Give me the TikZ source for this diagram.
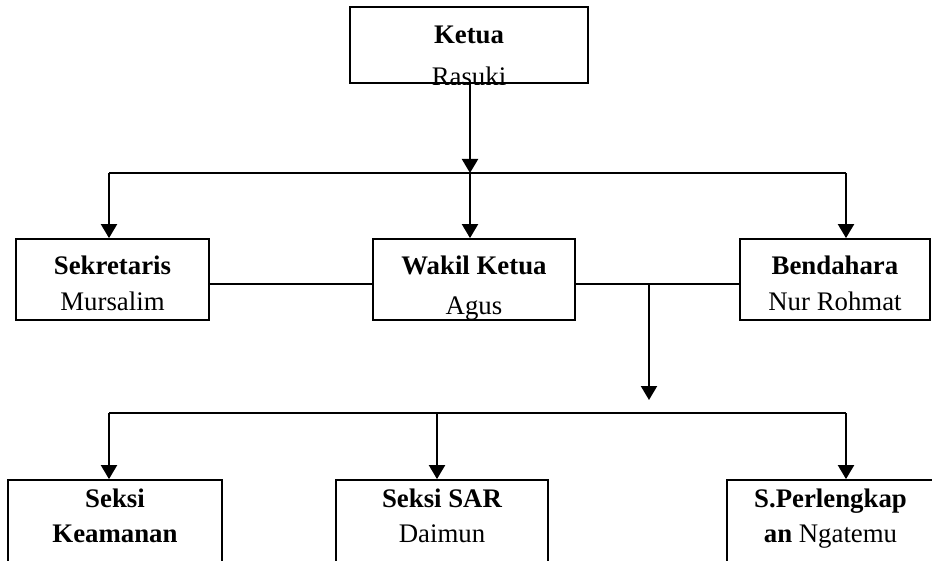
\documentclass[tikz,border=0pt]{standalone}
\usepackage{fontspec}
\setmainfont{Liberation Serif}
\usetikzlibrary{arrows.meta}
\tikzset{
  box/.style={draw=black, line width=1.8pt, inner sep=0pt, fill=white},
  lbl/.style={anchor=base, inner sep=0pt, font=\fontsize{26.8pt}{35pt}\selectfont},
  ttl/.style={lbl, font=\fontsize{26.8pt}{35pt}\selectfont\bfseries},
  hline/.style={draw=black, line width=1.6pt},
  arr/.style={draw=black, line width=2.1pt, -{Triangle[length=14pt,width=16pt]}}
}
\begin{document}
\begin{tikzpicture}[x=1pt,y=-1pt]
\useasboundingbox (0,0) rectangle (932,561);
\clip (0,0) rectangle (932,561);
% boxes
\node[box, minimum width=238pt, minimum height=76pt] (ketua) at (469,45) {};
\node[box, minimum width=193pt, minimum height=81pt] (sek) at (112.5,279.5) {};
\node[box, minimum width=202pt, minimum height=81pt] (wakil) at (474,279.5) {};
\node[box, minimum width=190pt, minimum height=81pt] (bend) at (835,279.5) {};
\node[box, minimum width=214pt, minimum height=95pt] (kea) at (115,527.5) {};
\node[box, minimum width=212pt, minimum height=95pt] (sar) at (442,527.5) {};
\node[box, minimum width=207pt, minimum height=95pt] (perl) at (830.5,527.5) {};
% texts
\node[ttl] (ketuaA) at (469,44) {Ketua};
\begin{scope}
  \clip (ketua.north west) rectangle ([yshift=-0.9pt]ketua.south east);
  \node[lbl] (ketuaB) at (469,85.5) {Rasuki};
\end{scope}
\node[ttl] (sekA) at (112.5,275) {Sekretaris};
\node[lbl] (sekB) at (112.5,311) {Mursalim};
\node[ttl] (wakilA) at (474,275) {Wakil Ketua};
\begin{scope}
  \clip (wakil.north west) rectangle ([yshift=-0.9pt]wakil.south east);
  \node[lbl] (wakilB) at (474,314.5) {Agus};
\end{scope}
\node[ttl] (bendA) at (835,275) {Bendahara};
\node[lbl] (bendB) at (835,311) {Nur Rohmat};
\node[ttl] (keaA) at (115,507) {Seksi};
\node[ttl] (keaB) at (115,542) {Keamanan};
\node[ttl] (sarA) at (442,507) {Seksi SAR};
\node[lbl] (sarB) at (442,542) {Daimun};
\node[ttl] (perlA) at (830.5,507) {S.Perlengkap};
\node[lbl] (perlB) at (830.5,542) {\textbf{an} Ngatemu};
% connectors, top level
\coordinate (hl) at (109,173);
\coordinate (hm) at (470,173);
\coordinate (hr) at (846,173);
\draw[hline] (hl) -- (hr);
\draw[arr] (ketua.south -| hm) -- (hm);
\draw[arr] (hl) -- (hl |- sek.north);
\draw[arr] (hm) -- (hm |- wakil.north);
\draw[arr] (hr) -- (hr |- bend.north);
% middle row links
\coordinate (r1) at (649,284);
\coordinate (r2) at (649,400);
\draw[hline] (sek.east |- r1) -- (wakil.west |- r1);
\draw[hline] (wakil.east |- r1) -- (bend.west |- r1);
\draw[arr] (r1) -- (r2);
% bottom level
\coordinate (bl) at (109,413);
\coordinate (bm) at (437,413);
\coordinate (br) at (846,413);
\draw[hline] (bl) -- (br);
\draw[arr] (bl) -- (bl |- kea.north);
\draw[arr] (bm) -- (bm |- sar.north);
\draw[arr] (br) -- (br |- perl.north);
\end{tikzpicture}
\end{document}
